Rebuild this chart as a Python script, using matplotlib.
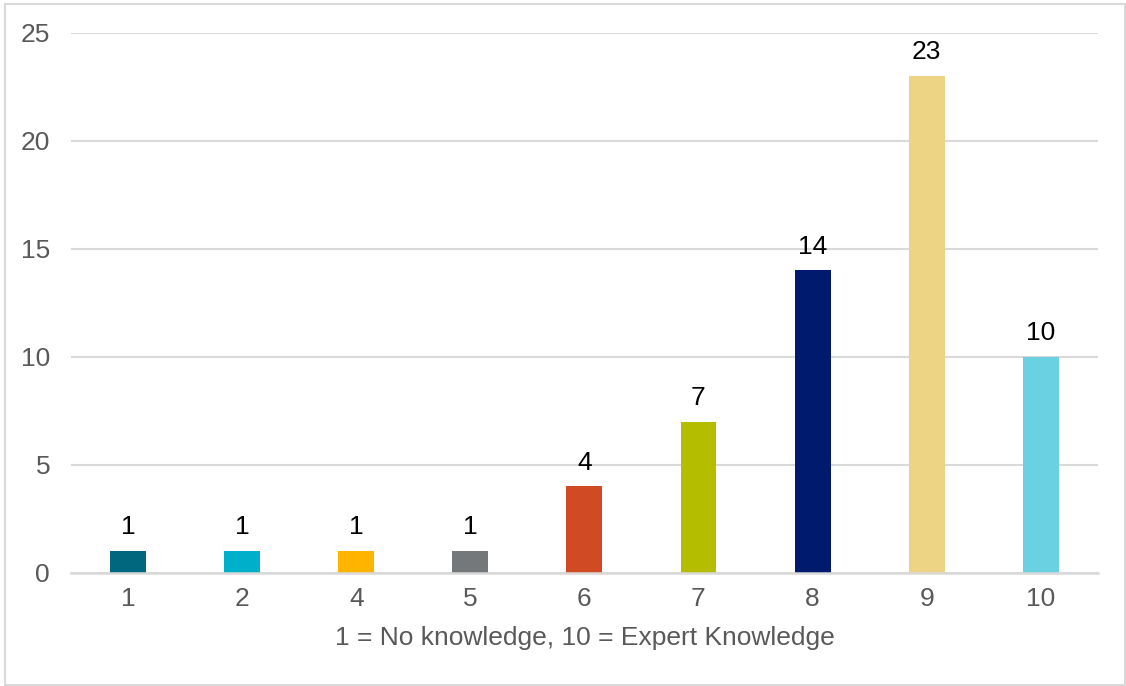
import matplotlib.pyplot as plt
from matplotlib.patches import Rectangle

# knowledge rating survey
ratings = ["1", "2", "4", "5", "6", "7", "8", "9", "10"]
counts = [1, 1, 1, 1, 4, 7, 14, 23, 10]
bar_colors = ["#00677F", "#00B0CA", "#FFB400", "#75787B", "#D04A23",
              "#B5BD00", "#001A6E", "#EDD484", "#6AD1E3"]
y_ticks = [0, 5, 10, 15, 20, 25]

plt.rcParams["font.family"] = ["Liberation Sans", "DejaVu Sans"]

fig = plt.figure(figsize=(11.26, 6.86), dpi=100)
ax = fig.add_axes([0.063, 0.165, 0.912, 0.787])

x = range(len(ratings))
bars = ax.bar(x, counts, width=0.315, color=bar_colors, zorder=3)

for b, c in zip(bars, counts):
    ax.text(b.get_x() + b.get_width() / 2, c + 0.55, str(c),
            ha="center", va="bottom", fontsize=19, color="black")

ax.set_xlim(-0.5, len(ratings) - 0.5)
ax.set_ylim(0, 25)
ax.set_yticks(y_ticks)
ax.set_xticks(list(x))
ax.set_xticklabels(ratings)
ax.grid(axis="y", color="#D9D9D9", linewidth=1.5, zorder=0)
ax.tick_params(length=0, labelsize=19, labelcolor="#595959")
ax.tick_params(axis="y", pad=15)
ax.tick_params(axis="x", pad=10)
for side in ["top", "right", "left"]:
    ax.spines[side].set_visible(False)
ax.spines["bottom"].set_color("#D9D9D9")
ax.spines["bottom"].set_linewidth(1.8)
ax.spines["bottom"].set_zorder(4)

ax.set_xlabel("1 = No knowledge, 10 = Expert Knowledge",
              fontsize=19, color="#595959", labelpad=11)

# light frame round the chart
fig.patches.append(Rectangle((0.0045, 0.0015), 0.995, 0.992,
                             transform=fig.transFigure, fill=False,
                             edgecolor="#D9D9D9", linewidth=1.5))

fig.savefig("out.png", dpi=100)
